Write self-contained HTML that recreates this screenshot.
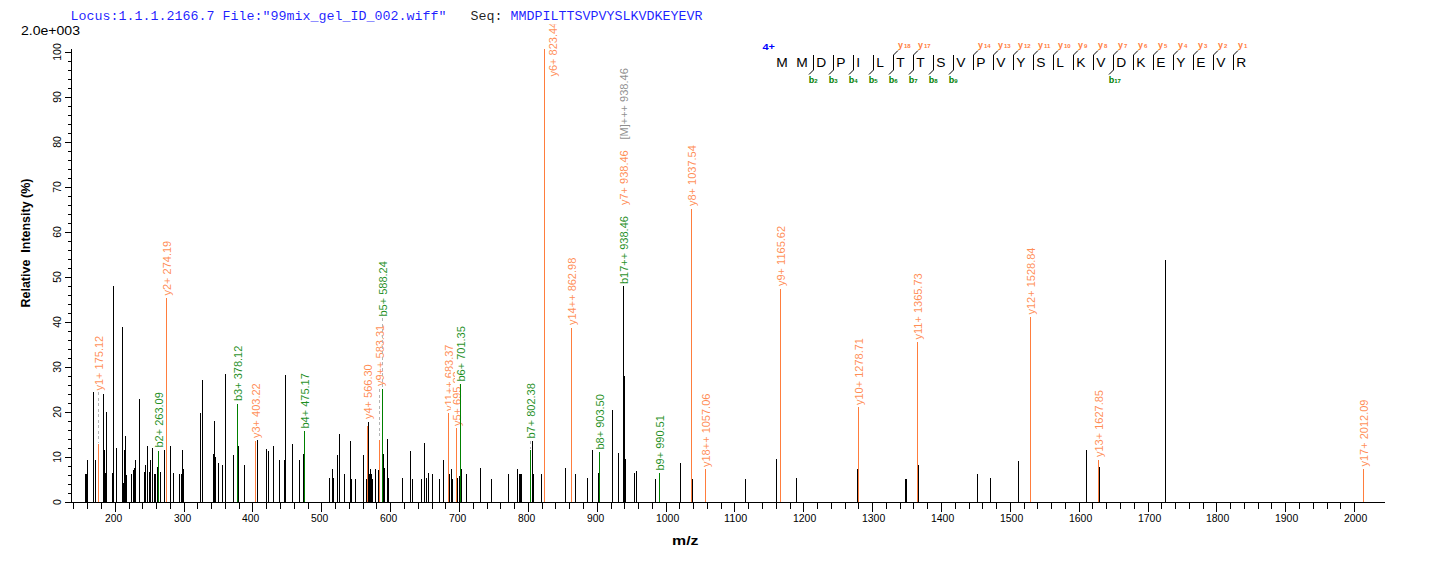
<!DOCTYPE html><html><head><meta charset="utf-8"><style>html,body{margin:0;padding:0;background:#fff;width:1436px;height:562px;overflow:hidden}svg{display:block}text{font-family:"Liberation Sans",sans-serif}</style></head><body>
<svg width="1436" height="562" viewBox="0 0 1436 562" shape-rendering="crispEdges">
<defs><clipPath id="pc"><rect x="0" y="24.3" width="1436" height="538"/></clipPath></defs>
<text x="70.5" y="20" style="font-family:'Liberation Mono',monospace;font-size:13.33px" fill="#0000ff" fill-opacity="0.88" xml:space="preserve">Locus:1.1.1.2166.7 File:"99mix_gel_ID_002.wiff"   <tspan fill="#000">Seq: </tspan>MMDPILTTSVPVYSLKVDKEYEVR</text>
<text x="21" y="35" font-size="12" fill="#000" textLength="59" lengthAdjust="spacingAndGlyphs">2.0e+003</text>
<g fill="#000">
<rect x="71" y="49" width="1" height="454"/>
<rect x="65" y="502" width="6" height="1"/>
<rect x="68" y="493" width="3" height="1"/>
<rect x="68" y="484" width="3" height="1"/>
<rect x="68" y="475" width="3" height="1"/>
<rect x="68" y="466" width="3" height="1"/>
<rect x="65" y="457" width="6" height="1"/>
<rect x="68" y="448" width="3" height="1"/>
<rect x="68" y="439" width="3" height="1"/>
<rect x="68" y="430" width="3" height="1"/>
<rect x="68" y="421" width="3" height="1"/>
<rect x="65" y="412" width="6" height="1"/>
<rect x="68" y="403" width="3" height="1"/>
<rect x="68" y="394" width="3" height="1"/>
<rect x="68" y="385" width="3" height="1"/>
<rect x="68" y="376" width="3" height="1"/>
<rect x="65" y="367" width="6" height="1"/>
<rect x="68" y="358" width="3" height="1"/>
<rect x="68" y="349" width="3" height="1"/>
<rect x="68" y="340" width="3" height="1"/>
<rect x="68" y="331" width="3" height="1"/>
<rect x="65" y="322" width="6" height="1"/>
<rect x="68" y="313" width="3" height="1"/>
<rect x="68" y="304" width="3" height="1"/>
<rect x="68" y="295" width="3" height="1"/>
<rect x="68" y="286" width="3" height="1"/>
<rect x="65" y="277" width="6" height="1"/>
<rect x="68" y="268" width="3" height="1"/>
<rect x="68" y="259" width="3" height="1"/>
<rect x="68" y="250" width="3" height="1"/>
<rect x="68" y="241" width="3" height="1"/>
<rect x="65" y="232" width="6" height="1"/>
<rect x="68" y="223" width="3" height="1"/>
<rect x="68" y="214" width="3" height="1"/>
<rect x="68" y="205" width="3" height="1"/>
<rect x="68" y="196" width="3" height="1"/>
<rect x="65" y="187" width="6" height="1"/>
<rect x="68" y="178" width="3" height="1"/>
<rect x="68" y="169" width="3" height="1"/>
<rect x="68" y="160" width="3" height="1"/>
<rect x="68" y="151" width="3" height="1"/>
<rect x="65" y="142" width="6" height="1"/>
<rect x="68" y="133" width="3" height="1"/>
<rect x="68" y="124" width="3" height="1"/>
<rect x="68" y="115" width="3" height="1"/>
<rect x="68" y="106" width="3" height="1"/>
<rect x="65" y="97" width="6" height="1"/>
<rect x="68" y="88" width="3" height="1"/>
<rect x="68" y="79" width="3" height="1"/>
<rect x="68" y="70" width="3" height="1"/>
<rect x="68" y="61" width="3" height="1"/>
<rect x="65" y="52" width="6" height="1"/>
<rect x="65" y="502" width="1320" height="1"/>
<rect x="73" y="503" width="1" height="6"/>
<rect x="87" y="503" width="1" height="6"/>
<rect x="101" y="503" width="1" height="6"/>
<rect x="115" y="503" width="1" height="9"/>
<rect x="129" y="503" width="1" height="6"/>
<rect x="142" y="503" width="1" height="6"/>
<rect x="156" y="503" width="1" height="6"/>
<rect x="170" y="503" width="1" height="6"/>
<rect x="184" y="503" width="1" height="9"/>
<rect x="197" y="503" width="1" height="6"/>
<rect x="211" y="503" width="1" height="6"/>
<rect x="225" y="503" width="1" height="6"/>
<rect x="239" y="503" width="1" height="6"/>
<rect x="252" y="503" width="1" height="9"/>
<rect x="266" y="503" width="1" height="6"/>
<rect x="280" y="503" width="1" height="6"/>
<rect x="294" y="503" width="1" height="6"/>
<rect x="308" y="503" width="1" height="6"/>
<rect x="321" y="503" width="1" height="9"/>
<rect x="335" y="503" width="1" height="6"/>
<rect x="349" y="503" width="1" height="6"/>
<rect x="363" y="503" width="1" height="6"/>
<rect x="376" y="503" width="1" height="6"/>
<rect x="390" y="503" width="1" height="9"/>
<rect x="404" y="503" width="1" height="6"/>
<rect x="418" y="503" width="1" height="6"/>
<rect x="432" y="503" width="1" height="6"/>
<rect x="445" y="503" width="1" height="6"/>
<rect x="459" y="503" width="1" height="9"/>
<rect x="473" y="503" width="1" height="6"/>
<rect x="487" y="503" width="1" height="6"/>
<rect x="500" y="503" width="1" height="6"/>
<rect x="514" y="503" width="1" height="6"/>
<rect x="528" y="503" width="1" height="9"/>
<rect x="542" y="503" width="1" height="6"/>
<rect x="555" y="503" width="1" height="6"/>
<rect x="569" y="503" width="1" height="6"/>
<rect x="583" y="503" width="1" height="6"/>
<rect x="597" y="503" width="1" height="9"/>
<rect x="611" y="503" width="1" height="6"/>
<rect x="624" y="503" width="1" height="6"/>
<rect x="638" y="503" width="1" height="6"/>
<rect x="652" y="503" width="1" height="6"/>
<rect x="666" y="503" width="1" height="9"/>
<rect x="679" y="503" width="1" height="6"/>
<rect x="693" y="503" width="1" height="6"/>
<rect x="707" y="503" width="1" height="6"/>
<rect x="721" y="503" width="1" height="6"/>
<rect x="734" y="503" width="1" height="9"/>
<rect x="748" y="503" width="1" height="6"/>
<rect x="762" y="503" width="1" height="6"/>
<rect x="776" y="503" width="1" height="6"/>
<rect x="790" y="503" width="1" height="6"/>
<rect x="803" y="503" width="1" height="9"/>
<rect x="817" y="503" width="1" height="6"/>
<rect x="831" y="503" width="1" height="6"/>
<rect x="845" y="503" width="1" height="6"/>
<rect x="858" y="503" width="1" height="6"/>
<rect x="872" y="503" width="1" height="9"/>
<rect x="886" y="503" width="1" height="6"/>
<rect x="900" y="503" width="1" height="6"/>
<rect x="913" y="503" width="1" height="6"/>
<rect x="927" y="503" width="1" height="6"/>
<rect x="941" y="503" width="1" height="9"/>
<rect x="955" y="503" width="1" height="6"/>
<rect x="969" y="503" width="1" height="6"/>
<rect x="982" y="503" width="1" height="6"/>
<rect x="996" y="503" width="1" height="6"/>
<rect x="1010" y="503" width="1" height="9"/>
<rect x="1024" y="503" width="1" height="6"/>
<rect x="1037" y="503" width="1" height="6"/>
<rect x="1051" y="503" width="1" height="6"/>
<rect x="1065" y="503" width="1" height="6"/>
<rect x="1079" y="503" width="1" height="9"/>
<rect x="1092" y="503" width="1" height="6"/>
<rect x="1106" y="503" width="1" height="6"/>
<rect x="1120" y="503" width="1" height="6"/>
<rect x="1134" y="503" width="1" height="6"/>
<rect x="1148" y="503" width="1" height="9"/>
<rect x="1161" y="503" width="1" height="6"/>
<rect x="1175" y="503" width="1" height="6"/>
<rect x="1189" y="503" width="1" height="6"/>
<rect x="1203" y="503" width="1" height="6"/>
<rect x="1216" y="503" width="1" height="9"/>
<rect x="1230" y="503" width="1" height="6"/>
<rect x="1244" y="503" width="1" height="6"/>
<rect x="1258" y="503" width="1" height="6"/>
<rect x="1271" y="503" width="1" height="6"/>
<rect x="1285" y="503" width="1" height="9"/>
<rect x="1299" y="503" width="1" height="6"/>
<rect x="1313" y="503" width="1" height="6"/>
<rect x="1327" y="503" width="1" height="6"/>
<rect x="1340" y="503" width="1" height="6"/>
<rect x="1354" y="503" width="1" height="9"/>
</g>
<text transform="translate(61,502) rotate(-90)" text-anchor="middle" font-size="10.5" fill="#000">0</text>
<text transform="translate(61,457) rotate(-90)" text-anchor="middle" font-size="10.5" fill="#000">10</text>
<text transform="translate(61,412) rotate(-90)" text-anchor="middle" font-size="10.5" fill="#000">20</text>
<text transform="translate(61,367) rotate(-90)" text-anchor="middle" font-size="10.5" fill="#000">30</text>
<text transform="translate(61,322) rotate(-90)" text-anchor="middle" font-size="10.5" fill="#000">40</text>
<text transform="translate(61,277) rotate(-90)" text-anchor="middle" font-size="10.5" fill="#000">50</text>
<text transform="translate(61,232) rotate(-90)" text-anchor="middle" font-size="10.5" fill="#000">60</text>
<text transform="translate(61,187) rotate(-90)" text-anchor="middle" font-size="10.5" fill="#000">70</text>
<text transform="translate(61,142) rotate(-90)" text-anchor="middle" font-size="10.5" fill="#000">80</text>
<text transform="translate(61,97) rotate(-90)" text-anchor="middle" font-size="10.5" fill="#000">90</text>
<text transform="translate(61,52) rotate(-90)" text-anchor="middle" font-size="10.5" fill="#000">100</text>
<text x="105" y="522" font-size="10" fill="#000" textLength="17.2" lengthAdjust="spacingAndGlyphs">200</text>
<text x="174" y="522" font-size="10" fill="#000" textLength="17.2" lengthAdjust="spacingAndGlyphs">300</text>
<text x="242" y="522" font-size="10" fill="#000" textLength="17.2" lengthAdjust="spacingAndGlyphs">400</text>
<text x="311" y="522" font-size="10" fill="#000" textLength="17.2" lengthAdjust="spacingAndGlyphs">500</text>
<text x="380" y="522" font-size="10" fill="#000" textLength="17.2" lengthAdjust="spacingAndGlyphs">600</text>
<text x="449" y="522" font-size="10" fill="#000" textLength="17.2" lengthAdjust="spacingAndGlyphs">700</text>
<text x="518" y="522" font-size="10" fill="#000" textLength="17.2" lengthAdjust="spacingAndGlyphs">800</text>
<text x="587" y="522" font-size="10" fill="#000" textLength="17.2" lengthAdjust="spacingAndGlyphs">900</text>
<text x="656" y="522" font-size="10" fill="#000" textLength="23.2" lengthAdjust="spacingAndGlyphs">1000</text>
<text x="724" y="522" font-size="10" fill="#000" textLength="23.2" lengthAdjust="spacingAndGlyphs">1100</text>
<text x="793" y="522" font-size="10" fill="#000" textLength="23.2" lengthAdjust="spacingAndGlyphs">1200</text>
<text x="862" y="522" font-size="10" fill="#000" textLength="23.2" lengthAdjust="spacingAndGlyphs">1300</text>
<text x="931" y="522" font-size="10" fill="#000" textLength="23.2" lengthAdjust="spacingAndGlyphs">1400</text>
<text x="1000" y="522" font-size="10" fill="#000" textLength="23.2" lengthAdjust="spacingAndGlyphs">1500</text>
<text x="1069" y="522" font-size="10" fill="#000" textLength="23.2" lengthAdjust="spacingAndGlyphs">1600</text>
<text x="1138" y="522" font-size="10" fill="#000" textLength="23.2" lengthAdjust="spacingAndGlyphs">1700</text>
<text x="1206" y="522" font-size="10" fill="#000" textLength="23.2" lengthAdjust="spacingAndGlyphs">1800</text>
<text x="1275" y="522" font-size="10" fill="#000" textLength="23.2" lengthAdjust="spacingAndGlyphs">1900</text>
<text x="1344" y="522" font-size="10" fill="#000" textLength="23.2" lengthAdjust="spacingAndGlyphs">2000</text>
<text transform="translate(30,243) rotate(-90)" text-anchor="middle" font-size="12" font-weight="bold" fill="#000" xml:space="preserve" textLength="129" lengthAdjust="spacingAndGlyphs">Relative  Intensity (%)</text>
<text x="672" y="545" font-size="13" font-weight="bold" fill="#000" textLength="26.5" lengthAdjust="spacingAndGlyphs">m/z</text>
<g clip-path="url(#pc)">
<g transform="translate(103,390.5) rotate(-90)"><rect x="-1" y="-10" width="58.0" height="14" fill="#fff"/><text x="0" y="0" font-size="11" fill="#ff7d3d" fill-opacity="0.88" shape-rendering="auto">y1+ 175.12</text></g>
<g transform="translate(163,447.5) rotate(-90)"><rect x="-1" y="-10" width="58.0" height="14" fill="#fff"/><text x="0" y="0" font-size="11" fill="#008000" fill-opacity="0.88" shape-rendering="auto">b2+ 263.09</text></g>
<g transform="translate(171,295.5) rotate(-90)"><rect x="-1" y="-10" width="58.0" height="14" fill="#fff"/><text x="0" y="0" font-size="11" fill="#ff7d3d" fill-opacity="0.88" shape-rendering="auto">y2+ 274.19</text></g>
<g transform="translate(242,401) rotate(-90)"><rect x="-1" y="-10" width="58.0" height="14" fill="#fff"/><text x="0" y="0" font-size="11" fill="#008000" fill-opacity="0.88" shape-rendering="auto">b3+ 378.12</text></g>
<g transform="translate(260,438) rotate(-90)"><rect x="-1" y="-10" width="58.0" height="14" fill="#fff"/><text x="0" y="0" font-size="11" fill="#ff7d3d" fill-opacity="0.88" shape-rendering="auto">y3+ 403.22</text></g>
<g transform="translate(309,428.5) rotate(-90)"><rect x="-1" y="-10" width="58.0" height="14" fill="#fff"/><text x="0" y="0" font-size="11" fill="#008000" fill-opacity="0.88" shape-rendering="auto">b4+ 475.17</text></g>
<g transform="translate(372,419) rotate(-90)"><rect x="-1" y="-10" width="58.0" height="14" fill="#fff"/><text x="0" y="0" font-size="11" fill="#ff7d3d" fill-opacity="0.88" shape-rendering="auto">y4+ 566.30</text></g>
<g transform="translate(384,386) rotate(-90)"><rect x="-1" y="-10" width="63.599999999999994" height="14" fill="#fff"/><text x="0" y="0" font-size="11" fill="#ff7d3d" fill-opacity="0.88" shape-rendering="auto">y9++ 583.31</text></g>
<g transform="translate(387,316.5) rotate(-90)"><rect x="-1" y="-10" width="58.0" height="14" fill="#fff"/><text x="0" y="0" font-size="11" fill="#008000" fill-opacity="0.88" shape-rendering="auto">b5+ 588.24</text></g>
<g transform="translate(453,411) rotate(-90)"><rect x="-1" y="-10" width="69.19999999999999" height="14" fill="#fff"/><text x="0" y="0" font-size="11" fill="#ff7d3d" fill-opacity="0.88" shape-rendering="auto">y11++ 683.37</text></g>
<g transform="translate(461,426) rotate(-90)"><rect x="-1" y="-10" width="58.0" height="14" fill="#fff"/><text x="0" y="0" font-size="11" fill="#ff7d3d" fill-opacity="0.88" shape-rendering="auto">y5+ 695.82</text></g>
<g transform="translate(465,381.5) rotate(-90)"><rect x="-1" y="-10" width="58.0" height="14" fill="#fff"/><text x="0" y="0" font-size="11" fill="#008000" fill-opacity="0.88" shape-rendering="auto">b6+ 701.35</text></g>
<g transform="translate(535,438.5) rotate(-90)"><rect x="-1" y="-10" width="58.0" height="14" fill="#fff"/><text x="0" y="0" font-size="11" fill="#008000" fill-opacity="0.88" shape-rendering="auto">b7+ 802.38</text></g>
<g transform="translate(556.5,76.5) rotate(-90)"><rect x="-1" y="-10" width="58.0" height="14" fill="#fff"/><text x="0" y="0" font-size="11" fill="#ff7d3d" fill-opacity="0.88" shape-rendering="auto">y6+ 823.44</text></g>
<g transform="translate(576,325) rotate(-90)"><rect x="-1" y="-10" width="69.19999999999999" height="14" fill="#fff"/><text x="0" y="0" font-size="11" fill="#ff7d3d" fill-opacity="0.88" shape-rendering="auto">y14++ 862.98</text></g>
<g transform="translate(604,449.5) rotate(-90)"><rect x="-1" y="-10" width="58.0" height="14" fill="#fff"/><text x="0" y="0" font-size="11" fill="#008000" fill-opacity="0.88" shape-rendering="auto">b8+ 903.50</text></g>
<g transform="translate(628,284) rotate(-90)"><rect x="-1" y="-10" width="69.19999999999999" height="14" fill="#fff"/><text x="0" y="0" font-size="11" fill="#008000" fill-opacity="0.88" shape-rendering="auto">b17++ 938.46</text></g>
<g transform="translate(628,205) rotate(-90)"><rect x="-1" y="-10" width="58.0" height="14" fill="#fff"/><text x="0" y="0" font-size="11" fill="#ff7d3d" fill-opacity="0.88" shape-rendering="auto">y7+ 938.46</text></g>
<g transform="translate(628,139.5) rotate(-90)"><rect x="-1" y="-10" width="74.8" height="14" fill="#fff"/><text x="0" y="0" font-size="11" fill="#808080" fill-opacity="0.88" shape-rendering="auto">[M]+++ 938.46</text></g>
<g transform="translate(664,470.5) rotate(-90)"><rect x="-1" y="-10" width="58.0" height="14" fill="#fff"/><text x="0" y="0" font-size="11" fill="#008000" fill-opacity="0.88" shape-rendering="auto">b9+ 990.51</text></g>
<g transform="translate(696,206) rotate(-90)"><rect x="-1" y="-10" width="63.599999999999994" height="14" fill="#fff"/><text x="0" y="0" font-size="11" fill="#ff7d3d" fill-opacity="0.88" shape-rendering="auto">y8+ 1037.54</text></g>
<g transform="translate(710,467) rotate(-90)"><rect x="-1" y="-10" width="74.8" height="14" fill="#fff"/><text x="0" y="0" font-size="11" fill="#ff7d3d" fill-opacity="0.88" shape-rendering="auto">y18++ 1057.06</text></g>
<g transform="translate(785,286) rotate(-90)"><rect x="-1" y="-10" width="63.599999999999994" height="14" fill="#fff"/><text x="0" y="0" font-size="11" fill="#ff7d3d" fill-opacity="0.88" shape-rendering="auto">y9+ 1165.62</text></g>
<g transform="translate(863,405) rotate(-90)"><rect x="-1" y="-10" width="69.19999999999999" height="14" fill="#fff"/><text x="0" y="0" font-size="11" fill="#ff7d3d" fill-opacity="0.88" shape-rendering="auto">y10+ 1278.71</text></g>
<g transform="translate(922,339.5) rotate(-90)"><rect x="-1" y="-10" width="69.19999999999999" height="14" fill="#fff"/><text x="0" y="0" font-size="11" fill="#ff7d3d" fill-opacity="0.88" shape-rendering="auto">y11+ 1365.73</text></g>
<g transform="translate(1035,314.5) rotate(-90)"><rect x="-1" y="-10" width="69.19999999999999" height="14" fill="#fff"/><text x="0" y="0" font-size="11" fill="#ff7d3d" fill-opacity="0.88" shape-rendering="auto">y12+ 1528.84</text></g>
<g transform="translate(1103,457) rotate(-90)"><rect x="-1" y="-10" width="69.19999999999999" height="14" fill="#fff"/><text x="0" y="0" font-size="11" fill="#ff7d3d" fill-opacity="0.88" shape-rendering="auto">y13+ 1627.85</text></g>
<g transform="translate(1368,466.5) rotate(-90)"><rect x="-1" y="-10" width="69.19999999999999" height="14" fill="#fff"/><text x="0" y="0" font-size="11" fill="#ff7d3d" fill-opacity="0.88" shape-rendering="auto">y17+ 2012.09</text></g>
<rect x="85" y="474" width="1" height="28" fill="#000000"/>
<rect x="86" y="474" width="1" height="28" fill="#000000"/>
<rect x="87" y="460" width="1" height="42" fill="#000000"/>
<rect x="93" y="392" width="1" height="110" fill="#000000"/>
<rect x="95" y="460" width="1" height="42" fill="#000000"/>
<rect x="98" y="444" width="1" height="58" fill="#ff7d3d"/>
<rect x="103" y="394" width="1" height="108" fill="#000000"/>
<rect x="104" y="450" width="1" height="52" fill="#000000"/>
<rect x="105" y="473" width="1" height="29" fill="#000000"/>
<rect x="106" y="412" width="1" height="90" fill="#000000"/>
<rect x="112" y="473" width="1" height="29" fill="#000000"/>
<rect x="113" y="286" width="1" height="216" fill="#000000"/>
<rect x="116" y="448" width="1" height="54" fill="#000000"/>
<rect x="122" y="327" width="1" height="175" fill="#000000"/>
<rect x="123" y="483" width="1" height="19" fill="#000000"/>
<rect x="124" y="450" width="1" height="52" fill="#000000"/>
<rect x="125" y="436" width="1" height="66" fill="#000000"/>
<rect x="126" y="475" width="1" height="27" fill="#000000"/>
<rect x="131" y="474" width="1" height="28" fill="#000000"/>
<rect x="133" y="470" width="1" height="32" fill="#000000"/>
<rect x="134" y="468" width="1" height="34" fill="#000000"/>
<rect x="135" y="460" width="1" height="42" fill="#000000"/>
<rect x="139" y="399" width="1" height="103" fill="#000000"/>
<rect x="144" y="472" width="1" height="30" fill="#000000"/>
<rect x="145" y="465" width="1" height="37" fill="#000000"/>
<rect x="147" y="446" width="1" height="56" fill="#000000"/>
<rect x="149" y="472" width="1" height="30" fill="#000000"/>
<rect x="150" y="460" width="1" height="42" fill="#000000"/>
<rect x="152" y="448" width="1" height="54" fill="#000000"/>
<rect x="154" y="474" width="1" height="28" fill="#000000"/>
<rect x="155" y="474" width="1" height="28" fill="#000000"/>
<rect x="157" y="467" width="1" height="35" fill="#000000"/>
<rect x="158" y="451" width="1" height="51" fill="#008000"/>
<rect x="160" y="472" width="1" height="30" fill="#000000"/>
<rect x="164" y="450" width="1" height="52" fill="#000000"/>
<rect x="166" y="298" width="1" height="204" fill="#ff7d3d"/>
<rect x="170" y="446" width="1" height="56" fill="#000000"/>
<rect x="173" y="473" width="1" height="29" fill="#000000"/>
<rect x="179" y="474" width="1" height="28" fill="#000000"/>
<rect x="181" y="474" width="1" height="28" fill="#000000"/>
<rect x="182" y="450" width="1" height="52" fill="#000000"/>
<rect x="183" y="469" width="1" height="33" fill="#000000"/>
<rect x="200" y="413" width="1" height="89" fill="#000000"/>
<rect x="202" y="380" width="1" height="122" fill="#000000"/>
<rect x="213" y="454" width="1" height="48" fill="#000000"/>
<rect x="214" y="421" width="1" height="81" fill="#000000"/>
<rect x="215" y="457" width="1" height="45" fill="#000000"/>
<rect x="218" y="463" width="1" height="39" fill="#000000"/>
<rect x="222" y="465" width="1" height="37" fill="#000000"/>
<rect x="225" y="374" width="1" height="128" fill="#000000"/>
<rect x="233" y="455" width="1" height="47" fill="#000000"/>
<rect x="237" y="404" width="1" height="98" fill="#008000"/>
<rect x="238" y="446" width="1" height="56" fill="#000000"/>
<rect x="244" y="465" width="1" height="37" fill="#000000"/>
<rect x="255" y="441" width="1" height="61" fill="#ff7d3d"/>
<rect x="257" y="440" width="1" height="62" fill="#000000"/>
<rect x="266" y="449" width="1" height="53" fill="#000000"/>
<rect x="268" y="451" width="1" height="51" fill="#000000"/>
<rect x="273" y="446" width="1" height="56" fill="#000000"/>
<rect x="279" y="460" width="1" height="42" fill="#000000"/>
<rect x="284" y="460" width="1" height="42" fill="#000000"/>
<rect x="285" y="375" width="1" height="127" fill="#000000"/>
<rect x="292" y="444" width="1" height="58" fill="#000000"/>
<rect x="299" y="460" width="1" height="42" fill="#000000"/>
<rect x="303" y="454" width="1" height="48" fill="#000000"/>
<rect x="304" y="431" width="1" height="71" fill="#008000"/>
<rect x="329" y="478" width="1" height="24" fill="#000000"/>
<rect x="332" y="469" width="1" height="33" fill="#000000"/>
<rect x="333" y="478" width="1" height="24" fill="#000000"/>
<rect x="337" y="455" width="1" height="47" fill="#000000"/>
<rect x="339" y="434" width="1" height="68" fill="#000000"/>
<rect x="344" y="474" width="1" height="28" fill="#000000"/>
<rect x="350" y="441" width="1" height="61" fill="#000000"/>
<rect x="351" y="479" width="1" height="23" fill="#000000"/>
<rect x="355" y="479" width="1" height="23" fill="#000000"/>
<rect x="363" y="455" width="1" height="47" fill="#000000"/>
<rect x="366" y="479" width="1" height="23" fill="#000000"/>
<rect x="367" y="426" width="1" height="76" fill="#ff7d3d"/>
<rect x="368" y="422" width="1" height="80" fill="#000000"/>
<rect x="369" y="474" width="1" height="28" fill="#000000"/>
<rect x="370" y="469" width="1" height="33" fill="#000000"/>
<rect x="371" y="474" width="1" height="28" fill="#000000"/>
<rect x="372" y="479" width="1" height="23" fill="#000000"/>
<rect x="375" y="469" width="1" height="33" fill="#000000"/>
<rect x="378" y="470" width="1" height="32" fill="#000000"/>
<rect x="379" y="440" width="1" height="62" fill="#ff7d3d"/>
<rect x="382" y="389" width="1" height="113" fill="#008000"/>
<rect x="383" y="454" width="1" height="48" fill="#000000"/>
<rect x="384" y="468" width="1" height="34" fill="#000000"/>
<rect x="387" y="439" width="1" height="63" fill="#000000"/>
<rect x="388" y="478" width="1" height="24" fill="#000000"/>
<rect x="402" y="478" width="1" height="24" fill="#000000"/>
<rect x="410" y="451" width="1" height="51" fill="#000000"/>
<rect x="412" y="479" width="1" height="23" fill="#000000"/>
<rect x="421" y="479" width="1" height="23" fill="#000000"/>
<rect x="424" y="443" width="1" height="59" fill="#000000"/>
<rect x="426" y="478" width="1" height="24" fill="#000000"/>
<rect x="428" y="473" width="1" height="29" fill="#000000"/>
<rect x="432" y="474" width="1" height="28" fill="#000000"/>
<rect x="439" y="479" width="1" height="23" fill="#000000"/>
<rect x="443" y="460" width="1" height="42" fill="#000000"/>
<rect x="448" y="413" width="1" height="89" fill="#ff7d3d"/>
<rect x="449" y="474" width="1" height="28" fill="#000000"/>
<rect x="451" y="469" width="1" height="33" fill="#000000"/>
<rect x="452" y="479" width="1" height="23" fill="#000000"/>
<rect x="456" y="428" width="1" height="74" fill="#ff7d3d"/>
<rect x="457" y="478" width="1" height="24" fill="#000000"/>
<rect x="459" y="476" width="1" height="26" fill="#000000"/>
<rect x="460" y="384" width="1" height="118" fill="#008000"/>
<rect x="461" y="469" width="1" height="33" fill="#000000"/>
<rect x="466" y="474" width="1" height="28" fill="#000000"/>
<rect x="480" y="468" width="1" height="34" fill="#000000"/>
<rect x="491" y="479" width="1" height="23" fill="#000000"/>
<rect x="508" y="474" width="1" height="28" fill="#000000"/>
<rect x="517" y="469" width="1" height="33" fill="#000000"/>
<rect x="519" y="474" width="1" height="28" fill="#000000"/>
<rect x="520" y="474" width="1" height="28" fill="#000000"/>
<rect x="521" y="474" width="1" height="28" fill="#000000"/>
<rect x="530" y="450" width="1" height="52" fill="#008000"/>
<rect x="532" y="441" width="1" height="61" fill="#000000"/>
<rect x="533" y="474" width="1" height="28" fill="#000000"/>
<rect x="541" y="474" width="1" height="28" fill="#000000"/>
<rect x="544" y="49" width="1" height="453" fill="#ff7d3d"/>
<rect x="565" y="468" width="1" height="34" fill="#000000"/>
<rect x="571" y="328" width="1" height="174" fill="#ff7d3d"/>
<rect x="575" y="474" width="1" height="28" fill="#000000"/>
<rect x="587" y="478" width="1" height="24" fill="#000000"/>
<rect x="592" y="450" width="1" height="52" fill="#000000"/>
<rect x="598" y="473" width="1" height="29" fill="#000000"/>
<rect x="599" y="452" width="1" height="50" fill="#008000"/>
<rect x="612" y="410" width="1" height="92" fill="#000000"/>
<rect x="618" y="453" width="1" height="49" fill="#000000"/>
<rect x="623" y="286" width="1" height="216" fill="#000000"/>
<rect x="624" y="376" width="1" height="126" fill="#000000"/>
<rect x="625" y="459" width="1" height="43" fill="#000000"/>
<rect x="634" y="473" width="1" height="29" fill="#000000"/>
<rect x="636" y="471" width="1" height="31" fill="#000000"/>
<rect x="655" y="479" width="1" height="23" fill="#000000"/>
<rect x="659" y="473" width="1" height="29" fill="#008000"/>
<rect x="680" y="463" width="1" height="39" fill="#000000"/>
<rect x="691" y="209" width="1" height="293" fill="#ff7d3d"/>
<rect x="692" y="479" width="1" height="23" fill="#000000"/>
<rect x="705" y="469" width="1" height="33" fill="#ff7d3d"/>
<rect x="745" y="479" width="1" height="23" fill="#000000"/>
<rect x="776" y="459" width="1" height="43" fill="#000000"/>
<rect x="780" y="289" width="1" height="213" fill="#ff7d3d"/>
<rect x="796" y="478" width="1" height="24" fill="#000000"/>
<rect x="857" y="469" width="1" height="33" fill="#000000"/>
<rect x="858" y="407" width="1" height="95" fill="#ff7d3d"/>
<rect x="905" y="479" width="1" height="23" fill="#000000"/>
<rect x="906" y="479" width="1" height="23" fill="#000000"/>
<rect x="917" y="342" width="1" height="160" fill="#ff7d3d"/>
<rect x="918" y="465" width="1" height="37" fill="#000000"/>
<rect x="977" y="474" width="1" height="28" fill="#000000"/>
<rect x="990" y="478" width="1" height="24" fill="#000000"/>
<rect x="1018" y="461" width="1" height="41" fill="#000000"/>
<rect x="1030" y="317" width="1" height="185" fill="#ff7d3d"/>
<rect x="1086" y="450" width="1" height="52" fill="#000000"/>
<rect x="1098" y="460" width="1" height="42" fill="#ff7d3d"/>
<rect x="1099" y="467" width="1" height="35" fill="#000000"/>
<rect x="1165" y="260" width="1" height="242" fill="#000000"/>
<rect x="1363" y="469" width="1" height="33" fill="#ff7d3d"/>
<line x1="98.5" y1="392" x2="98.5" y2="443" stroke="#b4b4b4" stroke-width="1" stroke-dasharray="3,2.5"/>
<line x1="379.5" y1="389" x2="379.5" y2="439" stroke="#b4b4b4" stroke-width="1" stroke-dasharray="3,2.5"/>
<line x1="530.5" y1="441" x2="530.5" y2="449" stroke="#b4b4b4" stroke-width="1" stroke-dasharray="3,2.5"/>
<line x1="382.5" y1="318" x2="382.5" y2="388" stroke="#b4b4b4" stroke-width="1" stroke-dasharray="3,2.5"/>
</g>
<text x="762.5" y="50" font-size="9.5" font-weight="bold" fill="#0000ff" textLength="12.5" lengthAdjust="spacingAndGlyphs">4+</text>
<text transform="translate(776.2,67) scale(1.15,1)" font-size="12" fill="#000">M</text>
<text transform="translate(796.2,67) scale(1.15,1)" font-size="12" fill="#000">M</text>
<text transform="translate(816.2,67) scale(1.15,1)" font-size="12" fill="#000">D</text>
<text transform="translate(836.2,67) scale(1.15,1)" font-size="12" fill="#000">P</text>
<text transform="translate(856.2,67) scale(1.15,1)" font-size="12" fill="#000">I</text>
<text transform="translate(876.2,67) scale(1.15,1)" font-size="12" fill="#000">L</text>
<text transform="translate(896.2,67) scale(1.15,1)" font-size="12" fill="#000">T</text>
<text transform="translate(916.2,67) scale(1.15,1)" font-size="12" fill="#000">T</text>
<text transform="translate(936.2,67) scale(1.15,1)" font-size="12" fill="#000">S</text>
<text transform="translate(956.2,67) scale(1.15,1)" font-size="12" fill="#000">V</text>
<text transform="translate(976.2,67) scale(1.15,1)" font-size="12" fill="#000">P</text>
<text transform="translate(996.2,67) scale(1.15,1)" font-size="12" fill="#000">V</text>
<text transform="translate(1016.2,67) scale(1.15,1)" font-size="12" fill="#000">Y</text>
<text transform="translate(1036.2,67) scale(1.15,1)" font-size="12" fill="#000">S</text>
<text transform="translate(1056.2,67) scale(1.15,1)" font-size="12" fill="#000">L</text>
<text transform="translate(1076.2,67) scale(1.15,1)" font-size="12" fill="#000">K</text>
<text transform="translate(1096.2,67) scale(1.15,1)" font-size="12" fill="#000">V</text>
<text transform="translate(1116.2,67) scale(1.15,1)" font-size="12" fill="#000">D</text>
<text transform="translate(1136.2,67) scale(1.15,1)" font-size="12" fill="#000">K</text>
<text transform="translate(1156.2,67) scale(1.15,1)" font-size="12" fill="#000">E</text>
<text transform="translate(1176.2,67) scale(1.15,1)" font-size="12" fill="#000">Y</text>
<text transform="translate(1196.2,67) scale(1.15,1)" font-size="12" fill="#000">E</text>
<text transform="translate(1216.2,67) scale(1.15,1)" font-size="12" fill="#000">V</text>
<text transform="translate(1236.2,67) scale(1.15,1)" font-size="12" fill="#000">R</text>
<g stroke="#000" stroke-width="1" fill="none" shape-rendering="auto">
<line x1="813.5" y1="55" x2="813.5" y2="70"/>
<line x1="813.5" y1="70" x2="809.0" y2="74.5"/>
<line x1="833.5" y1="55" x2="833.5" y2="70"/>
<line x1="833.5" y1="70" x2="829.0" y2="74.5"/>
<line x1="853.5" y1="55" x2="853.5" y2="70"/>
<line x1="853.5" y1="70" x2="849.0" y2="74.5"/>
<line x1="873.5" y1="55" x2="873.5" y2="70"/>
<line x1="873.5" y1="70" x2="869.0" y2="74.5"/>
<line x1="893.5" y1="55" x2="893.5" y2="70"/>
<line x1="893.5" y1="70" x2="889.0" y2="74.5"/>
<line x1="893.5" y1="55" x2="898.0" y2="50.5"/>
<line x1="913.5" y1="55" x2="913.5" y2="70"/>
<line x1="913.5" y1="70" x2="909.0" y2="74.5"/>
<line x1="913.5" y1="55" x2="918.0" y2="50.5"/>
<line x1="933.5" y1="55" x2="933.5" y2="70"/>
<line x1="933.5" y1="70" x2="929.0" y2="74.5"/>
<line x1="953.5" y1="55" x2="953.5" y2="70"/>
<line x1="953.5" y1="70" x2="949.0" y2="74.5"/>
<line x1="973.5" y1="55" x2="973.5" y2="70"/>
<line x1="973.5" y1="55" x2="978.0" y2="50.5"/>
<line x1="993.5" y1="55" x2="993.5" y2="70"/>
<line x1="993.5" y1="55" x2="998.0" y2="50.5"/>
<line x1="1013.5" y1="55" x2="1013.5" y2="70"/>
<line x1="1013.5" y1="55" x2="1018.0" y2="50.5"/>
<line x1="1033.5" y1="55" x2="1033.5" y2="70"/>
<line x1="1033.5" y1="55" x2="1038.0" y2="50.5"/>
<line x1="1053.5" y1="55" x2="1053.5" y2="70"/>
<line x1="1053.5" y1="55" x2="1058.0" y2="50.5"/>
<line x1="1073.5" y1="55" x2="1073.5" y2="70"/>
<line x1="1073.5" y1="55" x2="1078.0" y2="50.5"/>
<line x1="1093.5" y1="55" x2="1093.5" y2="70"/>
<line x1="1093.5" y1="55" x2="1098.0" y2="50.5"/>
<line x1="1113.5" y1="55" x2="1113.5" y2="70"/>
<line x1="1113.5" y1="70" x2="1109.0" y2="74.5"/>
<line x1="1113.5" y1="55" x2="1118.0" y2="50.5"/>
<line x1="1133.5" y1="55" x2="1133.5" y2="70"/>
<line x1="1133.5" y1="55" x2="1138.0" y2="50.5"/>
<line x1="1153.5" y1="55" x2="1153.5" y2="70"/>
<line x1="1153.5" y1="55" x2="1158.0" y2="50.5"/>
<line x1="1173.5" y1="55" x2="1173.5" y2="70"/>
<line x1="1173.5" y1="55" x2="1178.0" y2="50.5"/>
<line x1="1193.5" y1="55" x2="1193.5" y2="70"/>
<line x1="1193.5" y1="55" x2="1198.0" y2="50.5"/>
<line x1="1213.5" y1="55" x2="1213.5" y2="70"/>
<line x1="1213.5" y1="55" x2="1218.0" y2="50.5"/>
<line x1="1233.5" y1="55" x2="1233.5" y2="70"/>
<line x1="1233.5" y1="55" x2="1238.0" y2="50.5"/>
</g>
<text x="808.7" y="82.5" font-size="9" font-weight="bold" fill="#008000">b<tspan font-size="6">2</tspan></text>
<text x="828.7" y="82.5" font-size="9" font-weight="bold" fill="#008000">b<tspan font-size="6">3</tspan></text>
<text x="848.7" y="82.5" font-size="9" font-weight="bold" fill="#008000">b<tspan font-size="6">4</tspan></text>
<text x="868.7" y="82.5" font-size="9" font-weight="bold" fill="#008000">b<tspan font-size="6">5</tspan></text>
<text x="888.7" y="82.5" font-size="9" font-weight="bold" fill="#008000">b<tspan font-size="6">6</tspan></text>
<text x="898.0" y="48" font-size="9" font-weight="bold" fill="#ff7d3d">y<tspan font-size="6" dx="1">18</tspan></text>
<text x="908.7" y="82.5" font-size="9" font-weight="bold" fill="#008000">b<tspan font-size="6">7</tspan></text>
<text x="918.0" y="48" font-size="9" font-weight="bold" fill="#ff7d3d">y<tspan font-size="6" dx="1">17</tspan></text>
<text x="928.7" y="82.5" font-size="9" font-weight="bold" fill="#008000">b<tspan font-size="6">8</tspan></text>
<text x="948.7" y="82.5" font-size="9" font-weight="bold" fill="#008000">b<tspan font-size="6">9</tspan></text>
<text x="978.0" y="48" font-size="9" font-weight="bold" fill="#ff7d3d">y<tspan font-size="6" dx="1">14</tspan></text>
<text x="998.0" y="48" font-size="9" font-weight="bold" fill="#ff7d3d">y<tspan font-size="6" dx="1">13</tspan></text>
<text x="1018.0" y="48" font-size="9" font-weight="bold" fill="#ff7d3d">y<tspan font-size="6" dx="1">12</tspan></text>
<text x="1038.0" y="48" font-size="9" font-weight="bold" fill="#ff7d3d">y<tspan font-size="6" dx="1">11</tspan></text>
<text x="1058.0" y="48" font-size="9" font-weight="bold" fill="#ff7d3d">y<tspan font-size="6" dx="1">10</tspan></text>
<text x="1078.0" y="48" font-size="9" font-weight="bold" fill="#ff7d3d">y<tspan font-size="6" dx="1">9</tspan></text>
<text x="1098.0" y="48" font-size="9" font-weight="bold" fill="#ff7d3d">y<tspan font-size="6" dx="1">8</tspan></text>
<text x="1108.7" y="82.5" font-size="9" font-weight="bold" fill="#008000">b<tspan font-size="6">17</tspan></text>
<text x="1118.0" y="48" font-size="9" font-weight="bold" fill="#ff7d3d">y<tspan font-size="6" dx="1">7</tspan></text>
<text x="1138.0" y="48" font-size="9" font-weight="bold" fill="#ff7d3d">y<tspan font-size="6" dx="1">6</tspan></text>
<text x="1158.0" y="48" font-size="9" font-weight="bold" fill="#ff7d3d">y<tspan font-size="6" dx="1">5</tspan></text>
<text x="1178.0" y="48" font-size="9" font-weight="bold" fill="#ff7d3d">y<tspan font-size="6" dx="1">4</tspan></text>
<text x="1198.0" y="48" font-size="9" font-weight="bold" fill="#ff7d3d">y<tspan font-size="6" dx="1">3</tspan></text>
<text x="1218.0" y="48" font-size="9" font-weight="bold" fill="#ff7d3d">y<tspan font-size="6" dx="1">2</tspan></text>
<text x="1238.0" y="48" font-size="9" font-weight="bold" fill="#ff7d3d">y<tspan font-size="6" dx="1">1</tspan></text>
</svg></body></html>
